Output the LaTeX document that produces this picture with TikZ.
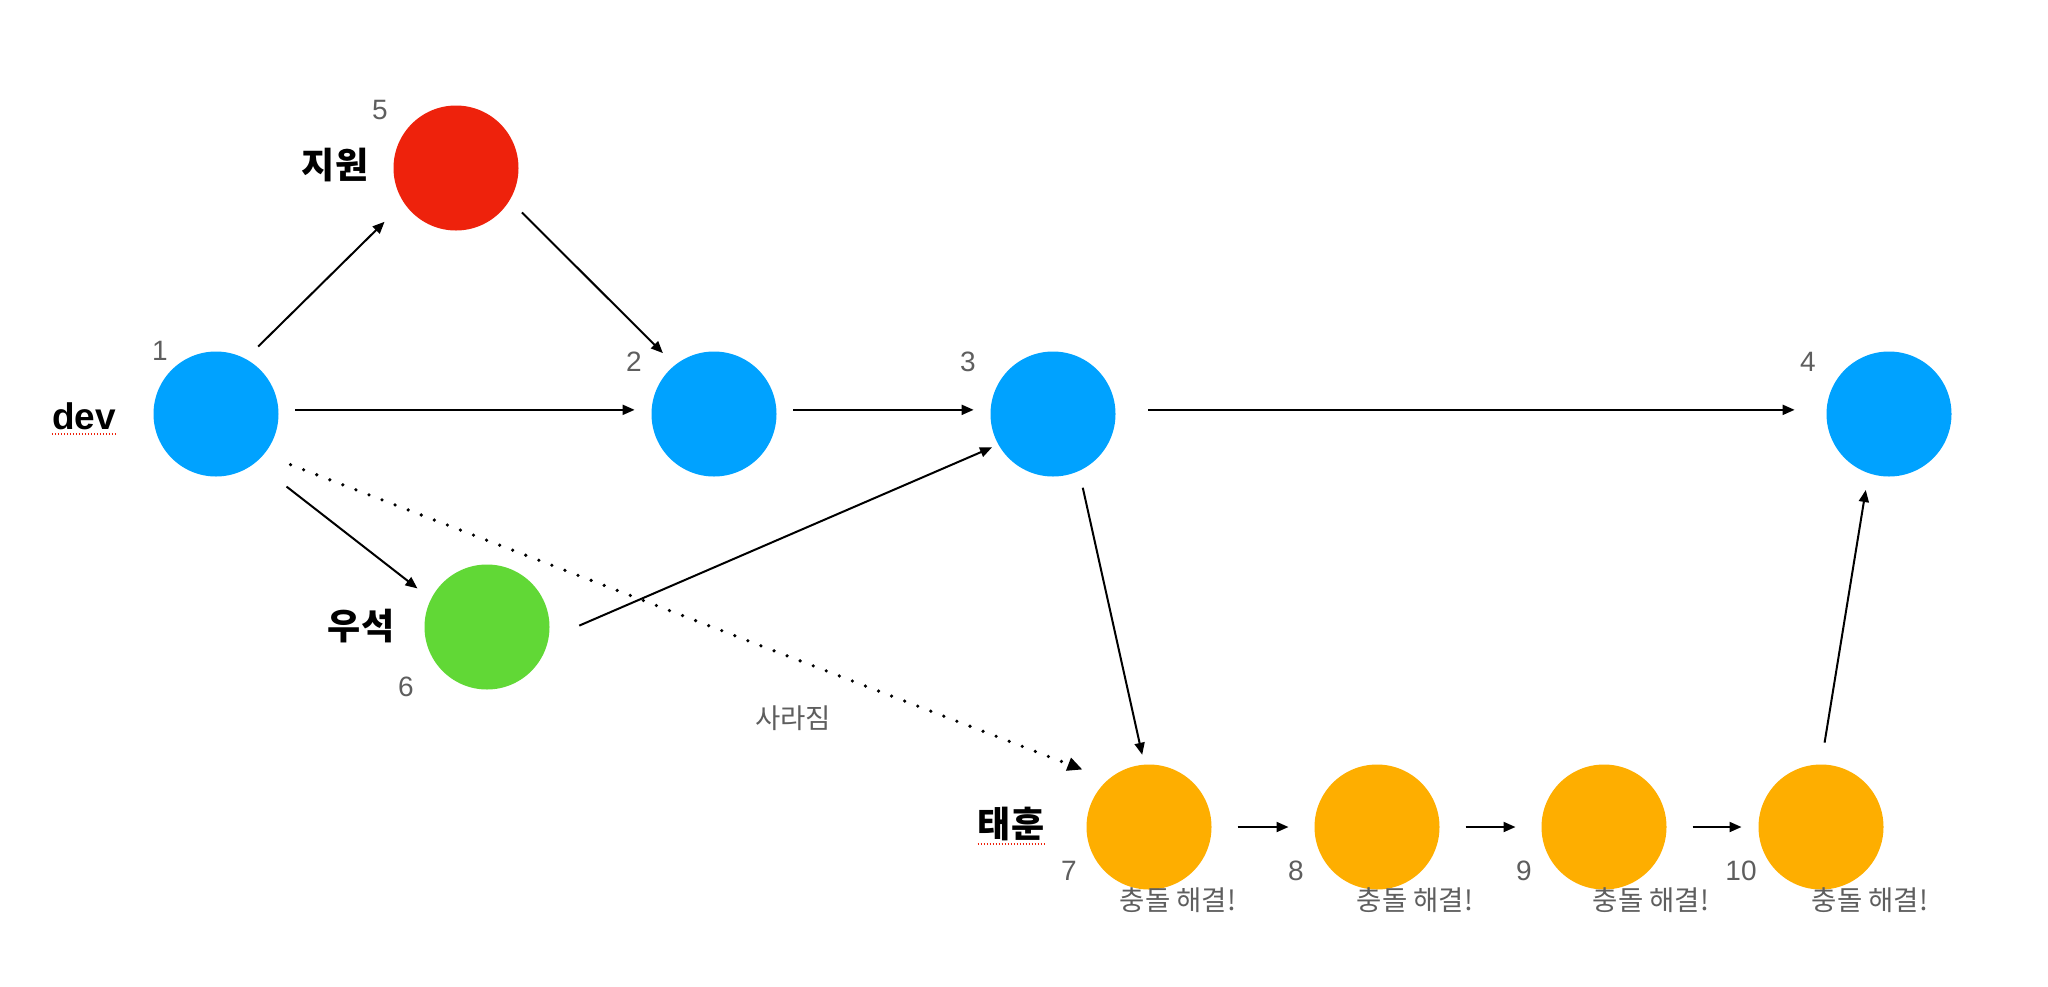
\documentclass[tikz,border=0pt]{standalone}
\usepackage{fontspec}
\setmainfont{Liberation Sans}
\newfontfamily\kr{Noto Sans CJK KR}
\usetikzlibrary{arrows.meta}

\definecolor{devblue}{HTML}{00A2FF}
\definecolor{jiwonred}{HTML}{EE220C}
\definecolor{wooseokgreen}{HTML}{61D836}
\definecolor{taehunorange}{HTML}{FEAE00}
\definecolor{numgray}{HTML}{5E5E5E}

\begin{document}
\begin{tikzpicture}[
    x=1pt, y=-1pt,
    commit/.style={circle, minimum size=125pt, inner sep=0pt, outer sep=17pt},
    num/.style={inner sep=0pt, text=numgray, font=\fontsize{28}{28}\selectfont},
    who/.style={inner sep=0pt, font=\kr\bfseries\fontsize{36}{36}\selectfont},
    note/.style={inner sep=0pt, text=numgray, font=\kr\fontsize{27.5}{27.5}\selectfont},
    arrow/.style={-{Triangle[length=12pt, width=10pt]}, line width=2pt},
    dotarrow/.style={-{Triangle[length=15pt, width=13pt]}, line width=3.6pt, line cap=round, dash pattern=on 0pt off 14pt},
    spell/.style={jiwonred, line width=1.5pt, dash pattern=on 1.5pt off 1.5pt}
  ]
\fill[white] (0,0) rectangle (2048,986);
\useasboundingbox (0,0) rectangle (2048,986);

% commits
\node[commit, fill=devblue]      (n1)  at (216,414) {};
\node[commit, fill=devblue]      (n2)  at (714,414) {};
\node[commit, fill=devblue]      (n3)  at (1053,414) {};
\node[commit, fill=devblue]      (n4)  at (1889,414) {};
\node[commit, fill=jiwonred]     (n5)  at (456,168) {};
\node[commit, fill=wooseokgreen] (n6)  at (487,627) {};
\node[commit, fill=taehunorange] (n7)  at (1149,827) {};
\node[commit, fill=taehunorange] (n8)  at (1377,827) {};
\node[commit, fill=taehunorange] (n9)  at (1604,827) {};
\node[commit, fill=taehunorange] (n10) at (1821,827) {};

% branch names
\node[inner sep=0pt, font=\bfseries\fontsize{37}{37}\selectfont] (devlbl) at (84,416) {dev};
\node[who] (jiwon)   at (335,165) {지원};
\node[who] (wooseok) at (361,626) {우석};
\node[who] (taehun)  at (1011,824) {태훈};
\draw[spell] ([yshift=-4pt]devlbl.south west) -- ([yshift=-4pt]devlbl.south east);
\draw[spell] ([yshift=-3pt]taehun.south west) -- ([yshift=-3pt]taehun.south east);

% numbers
\node[num] (l1)  at (160,351) {1};
\node[num] (l2)  at (634,362) {2};
\node[num] (l3)  at (968,362) {3};
\node[num] (l4)  at (1808,362) {4};
\node[num] (l5)  at (380,110) {5};
\node[num] (l6)  at (406,687) {6};
\node[num] (l7)  at (1069,871) {7};
\node[num] (l8)  at (1296,871) {8};
\node[num] (l9)  at (1524,871) {9};
\node[num] (l10) at (1741,871) {10};

% notes
\node[note] (lost) at (793,718) {사라짐};
\foreach \x/\i in {1178/7, 1415/8, 1651/9, 1870/10}
  \node[note] (fix\i) at (\x,900) {충돌 해결!};

% connectors
\draw[arrow, shorten >=10pt] (n1.58) -- (n5.216);
\draw[arrow] (n5.-34) -- (n2.130);
\draw[arrow] (n1.3) -- (n2.177);
\draw[arrow] (n2.3) -- (n3.177);
\draw[arrow, shorten <=16pt, shorten >=15pt] (n3.3) -- (n4.177);
\draw[arrow, shorten <=22pt] (n1.-48) -- (n6.151);
\draw[arrow, shorten <=14pt, shorten >=-10pt] (n6.-3) -- (n3.208);
\draw[dotarrow, shorten <=11pt, shorten >=9pt] (n1.-36) -- (n7.137);
\draw[arrow, shorten >=-7pt] (n3.-68) -- (n7.96);
\draw[arrow, shorten <=9pt, shorten >=9pt] (n7) -- (n8);
\draw[arrow, shorten <=9pt, shorten >=9pt] (n8) -- (n9);
\draw[arrow, shorten <=9pt] (n9) -- (n10);
\draw[arrow, shorten <=5pt] (n10.88) -- (n4.-107);
\end{tikzpicture}
\end{document}
